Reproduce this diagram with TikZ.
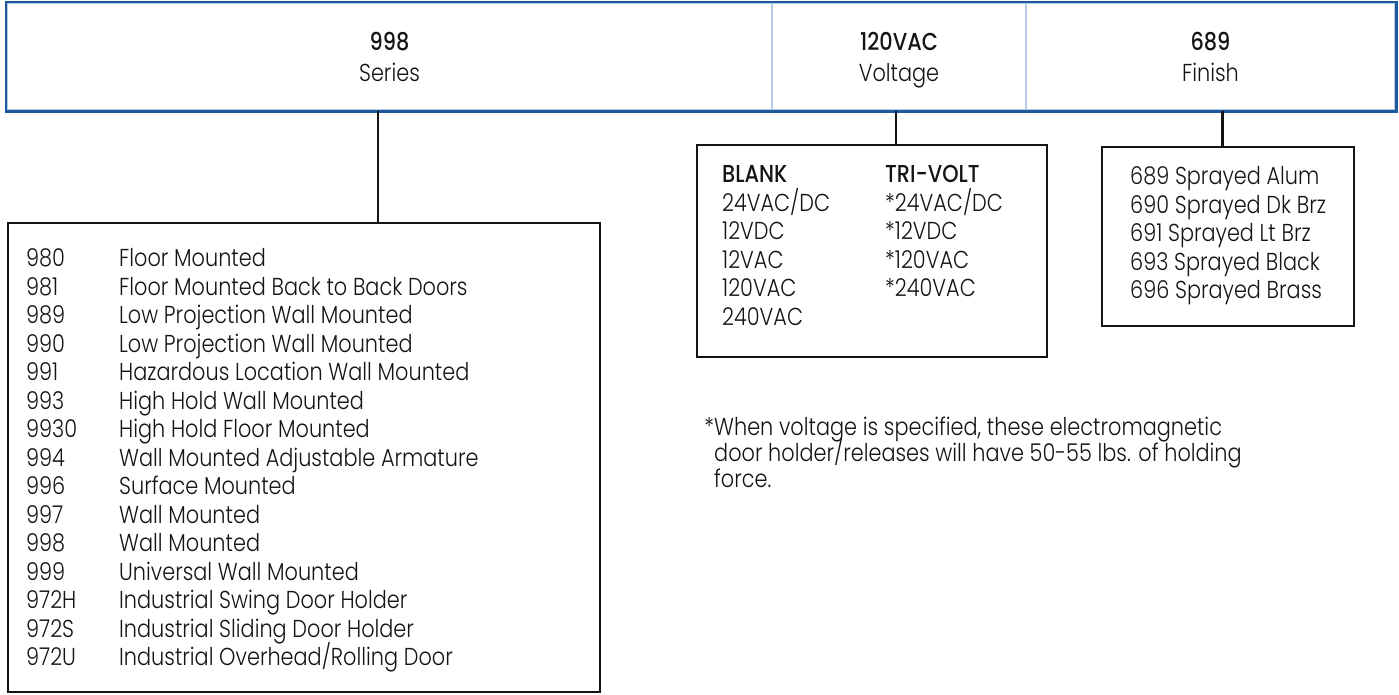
\documentclass[tikz,border=0pt]{standalone}
\usepackage{fontspec}
\setmainfont{Poppins}[UprightFont={* Light}, BoldFont={* Medium}, FakeStretch=0.85]
\definecolor{barblue}{RGB}{28,88,158}
\definecolor{divblue}{RGB}{180,204,230}
\definecolor{ink}{RGB}{20,20,20}
\newcommand{\nodepth}[1]{\raisebox{0pt}[\height][0pt]{#1}}
\begin{document}
\begin{tikzpicture}[x=1pt,y=-1pt,
  cell/.style={draw=divblue, line width=2.5pt, minimum height=107pt, inner sep=0pt, align=center, text=ink, font=\fontsize{24.5}{31}\selectfont},
  outer/.style={draw=barblue, line width=2.5pt},
  box/.style={draw=ink, line width=2.5pt, inner sep=0pt},
  conn/.style={draw=ink, line width=2.5pt},
  lt/.style={anchor=base west, inner sep=0pt, text=ink, font=\fontsize{24.5}{28.5}\selectfont}]
\useasboundingbox (0,0) rectangle (1399,694);
% top bar
\node[cell, minimum width=765pt] (series) at (389.5,56.5) {\textbf{998}\\Series};
\node[cell, minimum width=254pt] (volt) at (899,56.5) {\textbf{120VAC}\\\nodepth{Voltage}};
\node[cell, minimum width=369pt] (finish) at (1210.5,56.5) {\textbf{689}\\Finish};
\draw[outer] (series.north west) rectangle (finish.south east);
% boxes
\node[box, minimum width=592pt, minimum height=469pt] (seriesbox) at (304,457.5) {};
\node[box, minimum width=350pt, minimum height=212pt] (voltbox) at (872,251) {};
\node[box, minimum width=252pt, minimum height=179pt] (finishbox) at (1228,236.5) {};
% connectors
\draw[conn] ([xshift=-11.5pt]series.south) -- ([xshift=-11.5pt]series.south |- seriesbox.north);
\draw[conn] ([xshift=-3pt]volt.south) -- ([xshift=-3pt]volt.south |- voltbox.north);
\draw[conn] ([xshift=12pt]finish.south) -- ([xshift=12pt]finish.south |- finishbox.north);
% series list
\foreach \n/\d [count=\i] in {
  980/{Floor Mounted},
  981/{Floor Mounted Back to Back Doors},
  989/{Low Projection Wall Mounted},
  990/{Low Projection Wall Mounted},
  991/{Hazardous Location Wall Mounted},
  993/{High Hold Wall Mounted},
  9930/{High Hold Floor Mounted},
  994/{Wall Mounted Adjustable Armature},
  996/{Surface Mounted},
  997/{Wall Mounted},
  998/{Wall Mounted},
  999/{Universal Wall Mounted},
  972H/{Industrial Swing Door Holder},
  972S/{Industrial Sliding Door Holder},
  972U/{Industrial Overhead/Rolling Door}} {
  \node[lt] (sn\i) at (26,{266.5+28.5*(\i-1)}) {\n};
  \node[lt] (sd\i) at (119,{266.5+28.5*(\i-1)}) {\d};
}
% voltage lists
\node[lt] (blank) at (722,182.5) {\textbf{BLANK}};
\node[lt] (trivolt) at (885,182.5) {\textbf{TRI-VOLT}};
\foreach \v [count=\i] in {{24VAC/DC},12VDC,12VAC,120VAC,240VAC} {
  \node[lt] (bv\i) at (722,{182.5+28.6*\i}) {\v};
}
\foreach \v [count=\i] in {{*24VAC/DC},*12VDC,*120VAC,*240VAC} {
  \node[lt] (tv\i) at (885,{182.5+28.6*\i}) {\v};
}
% finish list
\foreach \f [count=\i] in {689 Sprayed Alum,690 Sprayed Dk Brz,691 Sprayed Lt Brz,693 Sprayed Black,696 Sprayed Brass} {
  \node[lt] (fl\i) at (1130,{184.5+28.6*(\i-1)}) {\f};
}
% footnote
\node[lt] (note1) at (714,435) {\llap{*}When voltage is specified, these electromagnetic};
\node[lt] (note2) at (714,461) {door holder/releases will have 50-55 lbs. of holding};
\node[lt] (note3) at (714,487) {force.};
\end{tikzpicture}
\end{document}
